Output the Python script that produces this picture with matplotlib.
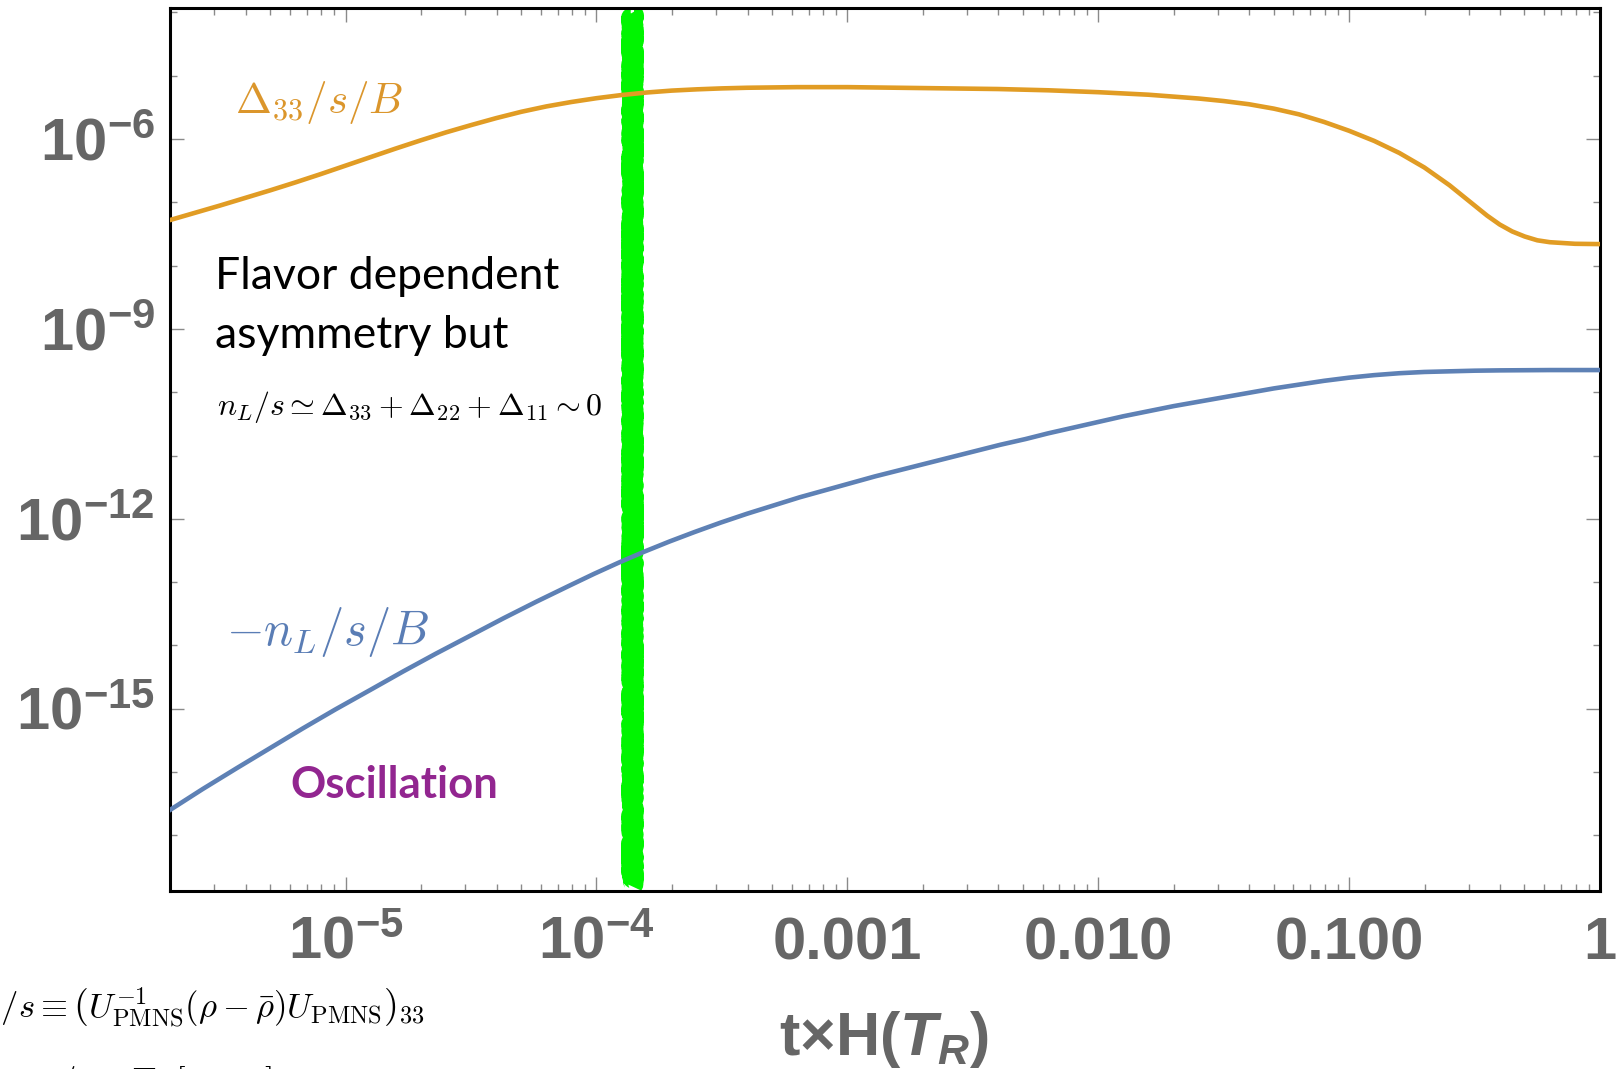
import numpy as np
import matplotlib
matplotlib.use("Agg")
import matplotlib.pyplot as plt
from matplotlib.ticker import LogLocator, NullFormatter

plt.rcParams['font.family'] = 'Liberation Sans'
plt.rcParams['mathtext.fontset'] = 'custom'
plt.rcParams['mathtext.rm'] = 'Liberation Sans:bold'
plt.rcParams['mathtext.bf'] = 'Liberation Sans:bold'
plt.rcParams['mathtext.it'] = 'Liberation Sans:italic:bold'
plt.rcParams['mathtext.bfit'] = 'Liberation Sans:italic:bold'

# curves (log10 of t*H(T_R) and log10 of the value)
orange_logx = [-5.70, -5.60, -5.50, -5.40, -5.30, -5.20, -5.10, -5.00, -4.90, -4.80,
               -4.70, -4.60, -4.50, -4.40, -4.30, -4.20, -4.10, -4.00, -3.90, -3.80,
               -3.70, -3.60, -3.50, -3.40, -3.20, -3.00, -2.80, -2.60, -2.40, -2.20,
               -2.00, -1.80, -1.60, -1.50, -1.40, -1.30, -1.20, -1.10, -1.00, -0.90,
               -0.80, -0.70, -0.60, -0.50, -0.45, -0.40, -0.35, -0.30, -0.25, -0.20,
               -0.10, 0.00]
orange_logy = [-7.28, -7.165, -7.05, -6.93, -6.81, -6.685, -6.555, -6.42, -6.285, -6.15,
               -6.02, -5.895, -5.78, -5.67, -5.57, -5.485, -5.415, -5.355, -5.305, -5.265,
               -5.235, -5.215, -5.20, -5.19, -5.18, -5.18, -5.19, -5.20, -5.21, -5.23,
               -5.26, -5.30, -5.36, -5.40, -5.45, -5.52, -5.61, -5.73, -5.87, -6.03,
               -6.22, -6.45, -6.73, -7.05, -7.21, -7.35, -7.46, -7.54, -7.60, -7.63,
               -7.655, -7.66]

blue_logx = [-5.70, -5.57, -5.43, -5.30, -5.17, -5.04, -4.90, -4.77, -4.64, -4.50,
             -4.37, -4.24, -4.11, -4.01, -3.91, -3.81, -3.71, -3.61, -3.505, -3.40,
             -3.295, -3.19, -3.09, -2.99, -2.89, -2.79, -2.69, -2.59, -2.49, -2.39,
             -2.29, -2.20, -2.10, -2.00, -1.90, -1.80, -1.70, -1.60, -1.50, -1.40,
             -1.30, -1.20, -1.10, -1.00, -0.90, -0.80, -0.70, -0.60, -0.50, -0.40,
             -0.20, 0.00]
blue_logy = [-16.60, -16.27, -15.93, -15.62, -15.31, -15.01, -14.70, -14.41, -14.13, -13.84,
             -13.57, -13.31, -13.06, -12.87, -12.69, -12.52, -12.36, -12.21, -12.06, -11.92,
             -11.79, -11.66, -11.55, -11.44, -11.33, -11.23, -11.13, -11.03, -10.93, -10.83,
             -10.74, -10.65, -10.56, -10.47, -10.38, -10.30, -10.22, -10.15, -10.08, -10.01,
             -9.94, -9.88, -9.82, -9.77, -9.73, -9.70, -9.68, -9.67, -9.66, -9.655,
             -9.65, -9.65]

green_x = 1.38e-4
green_y = [1.6e-18, 1.0e-4]

x_ticks = [1e-5, 1e-4, 1e-3, 1e-2, 1e-1, 1.0]
x_tick_labels = [r'$\mathbf{10^{-5}}$', r'$\mathbf{10^{-4}}$', '0.001', '0.010', '0.100', '1']
y_ticks = [1e-15, 1e-12, 1e-9, 1e-6]
y_tick_labels = [r'$\mathbf{10^{-15}}$', r'$\mathbf{10^{-12}}$', r'$\mathbf{10^{-9}}$', r'$\mathbf{10^{-6}}$']

W, H = 1620, 1069


def px(x, y):
    return x / W, 1 - y / H


fig = plt.figure(figsize=(16.2, 10.69), dpi=100)
ax = fig.add_axes([170 / W, 1 - 891 / H, 1430 / W, 883 / H])

ax.set_xscale('log')
ax.set_yscale('log')
ax.set_xlim(10 ** -5.70, 1.0)
ax.set_ylim(10 ** -17.88, 10 ** -3.93)

g, = ax.plot([green_x, green_x], green_y, color='#00f500', lw=14, zorder=1,
             solid_capstyle='butt')
g.set_sketch_params(scale=1.8, length=3, randomness=8)

ax.plot(10 ** np.array(orange_logx), 10 ** np.array(orange_logy), color='#E19C24', lw=3.3,
        zorder=3, solid_joinstyle='round')
ax.plot(10 ** np.array(blue_logx), 10 ** np.array(blue_logy), color='#5E81B5', lw=3.3,
        zorder=3, solid_joinstyle='round')

# ticks
ax.set_xticks(x_ticks, labels=x_tick_labels)
ax.set_yticks(y_ticks, labels=y_tick_labels)
ax.xaxis.set_minor_locator(LogLocator(base=10, subs=np.arange(2, 10), numticks=100))
ax.xaxis.set_minor_formatter(NullFormatter())
ax.yaxis.set_minor_locator(LogLocator(base=10, subs=(1.0,), numticks=100))
ax.yaxis.set_minor_formatter(NullFormatter())
ax.tick_params(which='both', direction='in', top=True, right=True, color='#8a8a8a', width=1.0)
ax.tick_params(which='major', length=10)
ax.tick_params(which='minor', length=5)
ax.tick_params(axis='x', which='major', pad=49, labelsize=43, labelcolor='#666666')
ax.tick_params(axis='y', which='major', pad=11, labelsize=43, labelcolor='#666666')
for lab in ax.get_xticklabels():
    lab.set_fontweight('bold')
    lab.set_va('baseline')
for lab in ax.get_yticklabels():
    lab.set_fontweight('bold')

for s in ax.spines.values():
    s.set_linewidth(2.2)
    s.set_color('black')

# labels on the plot
fig.text(*px(235, 113), r'$\Delta_{33}/s/B$', color='#DB962C', fontsize=31,
         math_fontfamily='cm', va='baseline')
fig.text(*px(226, 645), r'$-n_L/s/B$', color='#5A7DB5', fontsize=35,
         math_fontfamily='cm', va='baseline')
fig.text(*px(215, 289), 'Flavor dependent', fontsize=32, family='Lato', va='baseline')
fig.text(*px(215, 348), 'asymmetry but', fontsize=32, family='Lato', va='baseline')
fig.text(*px(217, 415), r'$n_L/s \simeq \Delta_{33}+\Delta_{22}+\Delta_{11} \sim 0$',
         fontsize=23, math_fontfamily='cm', va='baseline')
fig.text(*px(290, 798), 'Oscillation', fontsize=31.5, family='Lato', fontweight='bold',
         color='#922690', va='baseline')

# formulas cut off at the left/bottom edge
fig.text(*px(425, 1018),
         r'$\Delta_{33}/s \equiv \left(U_{\mathrm{PMNS}}^{-1}(\rho-\bar{\rho})U_{\mathrm{PMNS}}\right)_{33}$',
         fontsize=25, math_fontfamily='cm', ha='right', va='baseline')
fig.text(*px(272, 1092), r'$n_L/s \equiv \mathrm{Tr}\,[\bar{\rho}-\rho\,]$',
         fontsize=25, math_fontfamily='cm', ha='right', va='baseline')

fig.text(*px(884, 1055), r'$\mathbf{t{\times}H(}\mathbfit{T_R}\mathbf{)}$', fontsize=44,
         color='#666666', ha='center', va='baseline')

fig.savefig('out.png', dpi=100)
